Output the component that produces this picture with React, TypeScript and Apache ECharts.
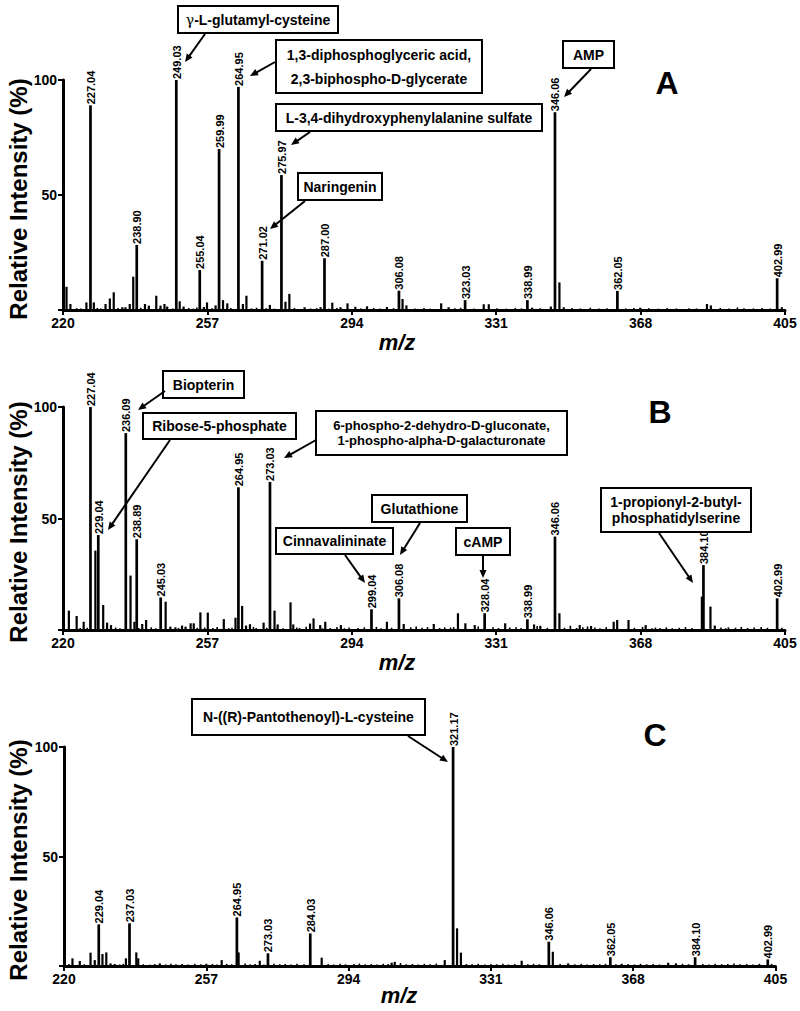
import React, { useEffect, useRef } from "react";
import * as echarts from "echarts";

const FONT = '"Liberation Sans", Arial, Helvetica, sans-serif';

// ---------- Panel A ----------
const A_LABEL_MZ = [227.04, 238.9, 249.03, 255.04, 259.99, 264.95, 271.02, 275.97, 287.0, 306.08, 323.03, 338.99, 346.06, 362.05, 402.99];
const A_LABEL_INT = [89, 28.3, 100, 17.4, 70, 97, 21.4, 58.7, 22.5, 8.4, 4.3, 4.3, 86, 8.3, 13.8];
const A_MINOR = [
  [220.9, 10.1], [221.9, 2.6], [226.0, 3.3], [227.9, 3.3], [230.9, 2.6], [232.0, 5], [233.0, 7.7], [235.2, 1.2], [236.0, 1.2],
  [237.1, 2.6], [238.0, 14.5], [241.0, 2.6], [242.0, 1.9], [243.9, 6.2], [245.0, 1.9], [246.0, 2.6], [246.7, 1.5], [249.9, 3.8],
  [250.9, 1.5], [256.1, 1.3], [256.9, 3.3], [259.1, 2.0], [261.0, 4.3], [262.1, 2.9], [266.1, 2.6], [267.0, 6.2], [273.0, 2.2],
  [277.0, 3.6], [278.0, 7.0], [281.9, 1.2], [286.0, 1.2], [289.0, 3.2], [291.1, 1.2], [292.9, 2.9], [294.9, 1.4], [297.9, 1.6],
  [303.0, 1.3], [307.0, 4.8], [308.0, 2.0], [316.9, 2.9], [318.8, 1.2], [327.8, 2.5], [329.1, 2.5], [340.2, 1.0], [345.0, 1.5],
  [347.2, 12], [348.3, 1.2], [367.9, 1.0], [385.0, 2.6], [386.0, 2.0], [404.2, 1.2],
];
const A_NOISE = [
  [223.5, 0.8], [224.6, 0.6], [228.8, 0.9], [229.7, 0.7], [234.1, 0.9], [239.9, 1.0], [244.8, 0.8], [248.1, 0.7], [252.2, 0.9],
  [253.4, 0.6], [254.3, 1.1], [258.2, 0.8], [263.0, 0.9], [268.3, 0.7], [269.6, 1.0], [272.1, 0.8], [274.2, 0.6], [279.3, 0.9],
  [283.4, 0.7], [285.0, 0.8], [288.1, 0.6], [290.2, 0.9], [296.3, 0.7], [299.6, 0.9], [301.2, 0.6], [304.7, 0.8], [310.2, 0.7],
  [312.5, 0.9], [314.1, 0.6], [320.4, 0.8], [321.9, 1.0], [325.3, 0.7], [331.2, 0.8], [333.6, 0.6], [335.9, 0.9], [337.5, 0.7],
  [342.3, 0.8], [350.4, 0.9], [352.6, 0.7], [355.1, 1.0], [357.3, 0.6], [359.4, 0.8], [364.2, 0.7], [366.3, 0.9], [370.1, 0.8],
  [372.6, 0.6], [374.8, 0.9], [377.2, 0.7], [380.4, 0.8], [382.3, 0.7], [388.4, 0.9], [390.6, 0.6], [392.8, 1.1], [394.5, 0.8],
  [396.9, 0.7], [399.1, 0.9], [401.2, 0.6],
];

// ---------- Panel B ----------
const B_LABEL_MZ = [227.04, 229.04, 236.09, 238.89, 245.03, 264.95, 273.03, 299.04, 306.08, 328.04, 338.99, 346.06, 384.1, 402.99];
const B_LABEL_INT = [100, 42.6, 88.3, 40.7, 14.6, 64, 66.4, 9.3, 14.2, 7.5, 4.8, 41.9, 29.1, 14.2];
const B_MINOR = [
  [221.5, 8.7], [223.5, 6.3], [225.3, 3.7], [228.3, 35.6], [230.3, 11.2], [231.3, 3.3], [232.3, 2.2], [237.3, 24.4], [238.3, 3.7],
  [240.3, 2.7], [241.3, 4.5], [246.3, 12.7], [247.5, 1.5], [248.8, 1.2], [250.5, 2.0], [251.4, 1.5], [252.7, 3.0], [253.5, 3.0],
  [255.2, 7.9], [257.1, 7.8], [261.2, 4.9], [264.2, 5.5], [265.9, 10.8], [266.9, 2.0], [267.9, 2.6], [271.4, 3.3], [274.2, 8.7],
  [275.0, 2.5], [278.3, 12.4], [279.0, 2.5], [283.3, 2.9], [284.2, 5.2], [285.9, 2.2], [287.2, 3.7], [291.2, 2.2], [303.0, 3.7],
  [307.3, 2.7], [315.0, 2.7], [321.2, 7.5], [323.1, 3.0], [325.5, 2.2], [333.3, 3.0], [340.7, 2.5], [342.3, 1.9], [347.2, 7.5],
  [352.4, 2.2], [355.3, 1.8], [361.1, 3.7], [362.0, 4.5], [364.9, 4.5], [369.3, 2.2], [383.7, 15], [385.9, 10.5], [387.0, 2.0],
];
const B_NOISE = [
  [224.4, 0.9], [226.2, 1.0], [233.5, 1.1], [234.6, 0.8], [239.4, 0.9], [242.6, 1.2], [243.8, 0.8], [249.6, 0.9], [254.4, 1.0],
  [256.3, 1.1], [258.4, 0.9], [259.5, 1.3], [262.5, 0.8], [263.3, 1.0], [268.8, 1.4], [269.5, 0.9], [272.2, 1.0], [276.4, 0.8],
  [279.9, 1.1], [280.6, 0.9], [282.3, 1.5], [286.5, 0.8], [288.5, 0.9], [290.2, 1.3], [292.1, 0.8], [293.3, 1.1], [295.6, 0.9],
  [297.2, 1.2], [300.3, 1.4], [301.5, 0.8], [304.2, 1.0], [309.1, 1.2], [310.5, 1.6], [312.0, 1.0], [313.4, 1.3], [316.5, 0.9],
  [317.8, 1.2], [319.3, 1.1], [320.1, 1.3], [326.4, 1.6], [330.2, 1.2], [331.6, 0.9], [334.5, 1.1], [336.1, 1.2], [337.4, 0.9],
  [341.5, 1.8], [344.1, 1.0], [348.5, 1.0], [350.0, 1.9], [351.6, 0.9], [353.2, 1.2], [354.4, 1.6], [356.3, 1.1], [357.6, 0.8],
  [359.2, 1.3], [366.4, 1.0], [368.5, 1.4], [370.9, 0.8], [371.8, 1.1], [373.0, 0.9], [374.6, 1.2], [376.1, 0.8], [377.9, 1.0],
  [379.5, 1.3], [381.2, 0.9], [388.6, 1.1], [389.8, 0.8], [390.5, 1.2], [392.3, 1.0], [393.8, 1.4], [395.4, 0.9], [397.1, 1.1],
  [398.9, 1.3], [400.5, 1.0], [404.2, 1.0],
];

// ---------- Panel C ----------
const C_LABEL_MZ = [229.04, 237.03, 264.95, 273.03, 284.03, 321.17, 346.06, 362.05, 384.1, 402.99];
const C_LABEL_INT = [19, 19.5, 22.2, 5.8, 14.9, 100, 11.1, 4, 4, 3];
const C_MINOR = [
  [222.2, 3.5], [224.1, 2.3], [226.9, 6.1], [228.0, 2.7], [230.0, 5.5], [231.0, 6.2], [232.1, 1.2], [233.2, 0.9], [236.1, 3.5],
  [238.8, 6.2], [239.3, 3.5], [244.9, 1.2], [257.0, 1.0], [261.0, 2.7], [265.4, 6.2], [270.9, 2.4], [287.0, 3.8], [305.2, 1.5],
  [306.0, 1.9], [319.0, 2.7], [322.2, 17.2], [323.2, 6.1], [339.0, 2.4], [347.1, 6.5], [351.1, 1.2], [365.0, 1.0], [377.1, 1.5],
  [379.1, 1.2],
];
const C_NOISE = [
  [221.3, 0.9], [225.3, 0.8], [234.5, 0.7], [235.4, 1.0], [240.6, 0.8], [242.3, 0.6], [243.6, 0.9], [246.5, 0.7], [247.8, 1.0],
  [249.1, 0.8], [250.7, 0.9], [252.3, 0.7], [254.0, 1.0], [255.6, 0.8], [258.6, 0.9], [259.8, 0.7], [262.3, 1.0], [263.6, 0.8],
  [267.1, 1.1], [268.4, 0.8], [269.7, 0.9], [272.0, 0.7], [274.6, 1.0], [276.1, 0.8], [277.5, 0.9], [279.0, 0.7], [280.6, 1.0],
  [282.4, 0.8], [288.7, 0.9], [290.1, 0.7], [291.8, 1.0], [293.2, 0.8], [295.4, 0.9], [296.8, 1.1], [298.3, 0.8], [299.9, 0.9],
  [301.4, 0.7], [303.0, 1.0], [304.3, 0.9], [307.5, 1.3], [309.0, 0.8], [310.6, 0.9], [312.1, 0.7], [313.7, 1.0], [315.2, 0.8],
  [316.8, 1.1], [324.6, 0.9], [326.1, 0.8], [327.7, 1.0], [329.4, 0.7], [331.0, 0.9], [332.5, 0.8], [334.1, 1.0], [335.6, 0.7],
  [337.2, 0.9], [340.6, 0.8], [342.1, 1.0], [343.6, 0.8], [349.0, 0.9], [352.8, 0.8], [354.5, 1.0], [356.0, 0.7], [357.7, 0.9],
  [359.3, 0.8], [360.8, 1.0], [363.5, 0.8], [366.7, 0.9], [368.3, 0.7], [369.9, 1.0], [371.5, 0.8], [373.2, 0.9], [374.8, 0.7],
  [380.8, 1.0], [382.4, 0.8], [386.1, 0.9], [387.7, 0.7], [389.3, 1.0], [391.0, 0.8], [392.6, 0.9], [394.2, 1.1], [395.8, 0.8],
  [397.5, 0.9], [399.1, 0.7], [400.8, 1.0], [404.0, 1.0],
];

const X_MIN = 220;
const X_MAX = 405;
const X_STEP = 37;
const Y_NAME = "Relative Intensity (%)";
const X_NAME = "m/z";

function stickSeries(idx: number, data: number[][], width: number) {
  return {
    type: "custom",
    xAxisIndex: idx,
    yAxisIndex: idx,
    data,
    silent: true,
    renderItem: (params: any, api: any) => {
      const x = api.value(0);
      const y = api.value(1);
      const p0 = api.coord([x, 0]);
      const p1 = api.coord([x, y]);
      return {
        type: "line",
        shape: { x1: p0[0], y1: p0[1], x2: p1[0], y2: p1[1] },
        style: { stroke: "#000", lineWidth: width },
      };
    },
  };
}

function labeledSeries(idx: number, mz: number[], ints: number[]) {
  const data = mz.map((m, i) => [m, ints[i]]);
  return {
    type: "custom",
    xAxisIndex: idx,
    yAxisIndex: idx,
    data,
    silent: true,
    renderItem: (params: any, api: any) => {
      const x = api.value(0);
      const y = api.value(1);
      const p0 = api.coord([x, 0]);
      const p1 = api.coord([x, y]);
      return {
        type: "group",
        children: [
          {
            type: "line",
            shape: { x1: p0[0], y1: p0[1], x2: p1[0], y2: p1[1] },
            style: { stroke: "#000", lineWidth: 2.7 },
          },
          {
            type: "text",
            x: p1[0] + 0.5,
            y: p1[1] - 1,
            rotation: Math.PI / 2,
            style: {
              text: x.toFixed(2),
              fill: "#000",
              fontSize: 11,
              fontWeight: "bold",
              fontFamily: FONT,
              align: "left",
              verticalAlign: "middle",
            },
          },
        ],
      };
    },
  };
}

function box(x: number, y: number, w: number, h: number, text: string, fs = 14, lh = 16, rich?: any) {
  return [
    { type: "rect", shape: { x, y, width: w, height: h }, style: { fill: "#fff", stroke: "#000", lineWidth: 2 }, z: 10 },
    {
      type: "text",
      x: x + w / 2,
      y: y + h / 2,
      z: 11,
      style: { text, rich, fill: "#000", fontSize: fs, fontWeight: "bold", fontFamily: FONT, align: "center", verticalAlign: "middle", lineHeight: lh },
    },
  ];
}

function arrow(x1: number, y1: number, x2: number, y2: number) {
  const ang = Math.atan2(y2 - y1, x2 - x1);
  const L = 8;
  const W = 3.5;
  const c = Math.cos(ang);
  const s = Math.sin(ang);
  const bx = x2 - L * c;
  const by = y2 - L * s;
  return [
    { type: "line", z: 10, shape: { x1, y1, x2: bx + 2 * c, y2: by + 2 * s }, style: { stroke: "#000", lineWidth: 2 } },
    { type: "polygon", z: 10, shape: { points: [[x2, y2], [bx + W * s, by - W * c], [bx - W * s, by + W * c]] }, style: { fill: "#000" } },
  ];
}

function bigText(x: number, y: number, text: string, fs: number, italic = false, rotation = 0) {
  return {
    type: "text",
    x,
    y,
    rotation,
    style: { text, fill: "#000", fontSize: fs, fontWeight: "bold", fontStyle: italic ? "italic" : "normal", fontFamily: FONT, align: "center", verticalAlign: "middle" },
  };
}

function xAxisCfg(idx: number) {
  return {
    type: "value",
    gridIndex: idx,
    min: X_MIN,
    max: X_MAX,
    interval: X_STEP,
    axisLine: { lineStyle: { color: "#000", width: 3 } },
    axisTick: { length: 5, lineStyle: { color: "#000", width: 2 } },
    axisLabel: { color: "#000", fontSize: 14, fontWeight: "bold", fontFamily: FONT, margin: 6 },
    splitLine: { show: false },
  };
}

function yAxisCfg(idx: number) {
  return {
    type: "value",
    gridIndex: idx,
    min: 0,
    max: 100,
    interval: 50,
    axisLine: { show: true, lineStyle: { color: "#000", width: 3 } },
    axisTick: { length: 5, lineStyle: { color: "#000", width: 2 } },
    axisLabel: {
      color: "#000",
      fontSize: 14,
      fontWeight: "bold",
      fontFamily: FONT,
      margin: 6,
      formatter: (v: number) => (v === 0 ? "" : String(v)),
    },
    splitLine: { show: false },
  };
}

export default function App() {
  const ref = useRef<HTMLDivElement>(null);
  useEffect(() => {
    if (!ref.current) return;
    const chart = echarts.init(ref.current, null, { renderer: "svg" });
    const gammaRich = {
      g: { fontFamily: '"DejaVu Serif", "Liberation Serif", serif', fontSize: 14, fontWeight: "normal", fill: "#000" },
    };
    const graphic: any[] = [
      // Panel A
      bigText(18, 199, Y_NAME, 24, false, Math.PI / 2),
      bigText(667, 83, "A", 32),
      ...box(178, 6, 160, 27, "{g|γ}-L-glutamyl-cysteine", 14, 16, gammaRich),
      ...arrow(205, 34, 185, 62),
      ...box(276, 40, 206, 53, "1,3-diphosphoglyceric acid,\n2,3-biphospho-D-glycerate", 14, 24),
      ...arrow(275, 62, 250, 76),
      ...box(276, 104, 266, 27, "L-3,4-dihydroxyphenylalanine sulfate"),
      ...arrow(310, 132, 291, 145),
      ...box(563, 41, 51, 27, "AMP"),
      ...arrow(591, 69, 564, 97),
      ...box(298, 173, 84, 27, "Naringenin"),
      ...arrow(305, 201, 270, 229),
      bigText(397, 342, X_NAME, 22, true),
      // Panel B
      bigText(18, 522, Y_NAME, 24, false, Math.PI / 2),
      bigText(660, 412, "B", 32),
      ...box(163, 371, 81, 27, "Biopterin"),
      ...arrow(165, 391, 138, 410),
      ...box(143, 413, 153, 26, "Ribose-5-phosphate"),
      ...arrow(170, 440, 108, 530),
      ...box(316, 411, 251, 44, "6-phospho-2-dehydro-D-gluconate,\n1-phospho-alpha-D-galacturonate", 13, 15),
      ...arrow(316, 440, 284, 458),
      ...box(276, 528, 117, 26, "Cinnavalininate"),
      ...arrow(345, 555, 365, 583),
      ...box(372, 495, 95, 27, "Glutathione"),
      ...arrow(420, 523, 400, 555),
      ...box(456, 528, 54, 27, "cAMP"),
      ...arrow(483, 556, 483, 578),
      ...box(601, 488, 150, 44, "1-propionyl-2-butyl-\nphosphatidylserine", 14, 16),
      ...arrow(659, 533, 693, 583),
      bigText(397, 662, X_NAME, 22, true),
      // Panel C
      bigText(18, 860, Y_NAME, 24, false, Math.PI / 2),
      bigText(655, 735, "C", 32),
      ...box(192, 699, 233, 36, "N-((R)-Pantothenoyl)-L-cysteine"),
      ...arrow(408, 736, 448, 762),
      bigText(399, 995, X_NAME, 22, true),
    ];
    chart.setOption({
      animation: false,
      backgroundColor: "#fff",
      grid: [
        { left: 63, top: 80, width: 722, height: 230, containLabel: false, outerBoundsMode: "none" },
        { left: 63, top: 407, width: 722, height: 223, containLabel: false, outerBoundsMode: "none" },
        { left: 64, top: 747, width: 711.5, height: 219, containLabel: false, outerBoundsMode: "none" },
      ],
      xAxis: [xAxisCfg(0), xAxisCfg(1), xAxisCfg(2)],
      yAxis: [yAxisCfg(0), yAxisCfg(1), yAxisCfg(2)],
      series: [
        stickSeries(0, A_NOISE, 1.6),
        stickSeries(0, A_MINOR, 2.2),
        labeledSeries(0, A_LABEL_MZ, A_LABEL_INT),
        stickSeries(1, B_NOISE, 1.6),
        stickSeries(1, B_MINOR, 2.2),
        labeledSeries(1, B_LABEL_MZ, B_LABEL_INT),
        stickSeries(2, C_NOISE, 1.6),
        stickSeries(2, C_MINOR, 2.2),
        labeledSeries(2, C_LABEL_MZ, C_LABEL_INT),
      ],
      graphic,
    });
    return () => chart.dispose();
  }, []);
  return <div ref={ref} style={{ position: "fixed", left: 0, top: 0, width: 800, height: 1011, background: "#fff" }} />;
}
